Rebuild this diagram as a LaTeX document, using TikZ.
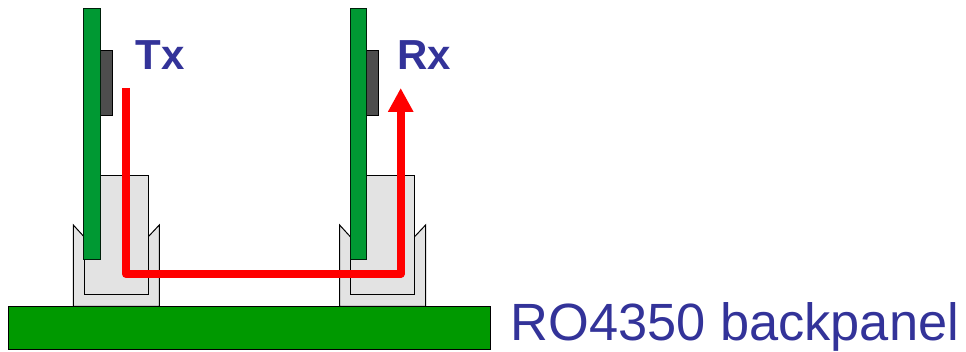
\documentclass[tikz,border=0pt]{standalone}
\usepackage{fontspec}
\usepackage{tikz}
\usetikzlibrary{arrows.meta}
\setmainfont{Liberation Sans}
\definecolor{labelBlue}{HTML}{333399}
\definecolor{boardGreen}{HTML}{009933}
\definecolor{panelGreen}{HTML}{009900}
\definecolor{chipGrey}{HTML}{4D4D4D}
\definecolor{housingGrey}{HTML}{E3E3E3}
\newcommand{\cardSlot}[1]{%
  \begin{scope}[xshift=#1]
    \draw[housing] (73.3,306.5) -- (73.3,225) -- (84,236.7) -- (148.3,236.7) -- (159.3,225) -- (159.3,306.5) -- cycle;
    \draw[housing] (84,175.7) rectangle (148.3,295);
    \draw[chip] (100.3,50.5) rectangle (112,115.5);
    \draw[card] (83.7,8.5) rectangle (100.3,259.5);
  \end{scope}
}

\begin{document}
\begin{tikzpicture}[x=1pt, y=-1pt, line width=1pt]
  \tikzset{housing/.style={draw=black,fill=housingGrey}}
  \tikzset{chip/.style={draw=black,fill=chipGrey}}
  \tikzset{card/.style={draw=black!80!boardGreen,fill=boardGreen}}
  \tikzset{signal/.style={draw=red,line width=8pt,line join=round,-{Triangle[length=24pt,width=24pt]}}}
  \tikzset{tag/.style={text=labelBlue,inner sep=0pt,anchor=base west}}
  \useasboundingbox (0,0) rectangle (966,352);
  \cardSlot{0}
  \cardSlot{266.3}
  \draw[draw=black,fill=panelGreen] (8,306.5) rectangle (490,349.5);
  \node[tag,font=\fontsize{42}{42}\selectfont\bfseries] (Tx) at (135,70) {Tx};
  \node[tag,font=\fontsize{42}{42}\selectfont\bfseries] (Rx) at (397,70) {Rx};
  \node[tag,font=\fontsize{52.4}{52.4}\selectfont] (RO) at (510,341) {RO4350 backpanel};
  \coordinate (TxEnd) at (126,88);
  \coordinate (RxEnd) at (400.7,88);
  \draw[signal] (TxEnd) -- (126,274) -- (400.7,274) -- (RxEnd);
\end{tikzpicture}
\end{document}
